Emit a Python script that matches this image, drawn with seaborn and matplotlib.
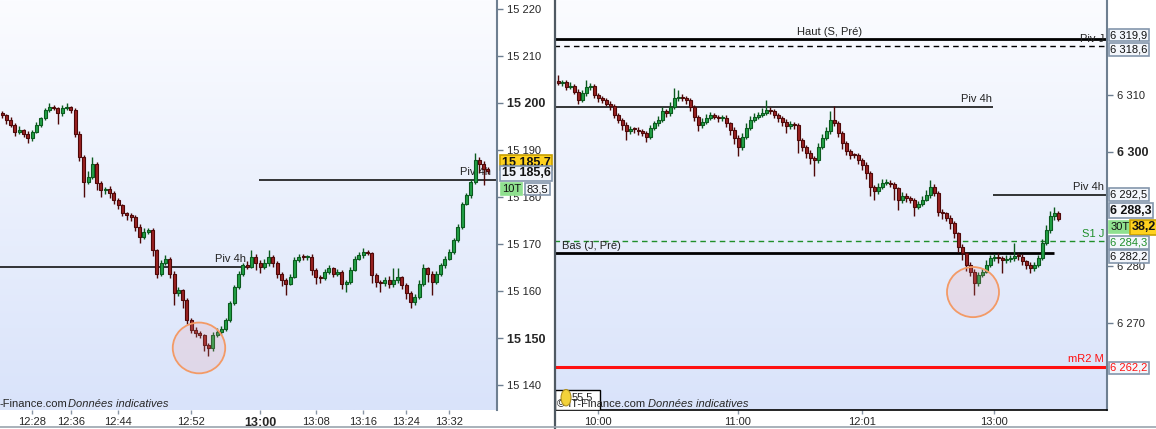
import numpy as np
import seaborn as sns
import matplotlib.pyplot as plt
import matplotlib.transforms as mtransforms
from matplotlib.patches import Ellipse, Rectangle
from matplotlib.lines import Line2D
from matplotlib.colors import LinearSegmentedColormap

sns.set_style("white")
plt.rcParams['font.family'] = ['Liberation Sans', 'DejaVu Sans']

# ---- left panel : 10 ticks bars ----
left_open0 = 15197.8
left_close = [15197.4, 15196.4, 15195.3, 15193.9, 15194.2, 15193.5, 15192.5, 15193.9, 15195.3, 15196.7,
              15198.5, 15199.2, 15198.9, 15197.8, 15198.9, 15199.1, 15198.5, 15193.5, 15188.6, 15183.2,
              15184.3, 15187.1, 15182.9, 15181.5, 15181.8, 15180.8, 15179.3, 15178.3, 15176.5, 15176.2,
              15175.8, 15173.7, 15171.5, 15172.6, 15173.0, 15168.7, 15163.7, 15165.9, 15166.9, 15163.7,
              15159.5, 15160.2, 15158.1, 15153.8, 15151.7, 15151.0, 15150.6, 15148.5, 15147.8, 15150.6,
              15151.3, 15152.0, 15153.8, 15157.4, 15160.9, 15163.7, 15165.5, 15165.2, 15167.3, 15165.9,
              15165.2, 15165.9, 15167.3, 15165.9, 15163.7, 15162.3, 15161.6, 15163.0, 15166.6, 15167.3,
              15167.2, 15167.3, 15164.5, 15163.0, 15162.7, 15164.1, 15164.8, 15163.7, 15164.1, 15161.6,
              15161.9, 15164.5, 15166.9, 15167.6, 15168.3, 15168.0, 15163.4, 15162.0, 15161.8, 15162.3,
              15161.6, 15162.3, 15163.0, 15161.3, 15159.5, 15157.7, 15158.8, 15161.6, 15164.8, 15163.7,
              15162.0, 15163.7, 15165.5, 15166.9, 15168.3, 15170.8, 15173.7, 15178.6, 15180.4, 15183.2,
              15187.9, 15187.1, 15186.0, 15185.6]
left_up = [0.5, 0.3, 0.6, 0.4, 0.8, 0.3, 0.5, 0.4, 0.6, 0.3,
           0.5, 0.7, 0.4, 0.3, 0.6, 0.9, 0.3, 0.4, 0.5, 0.3,
           1.2, 1.5, 0.4, 0.5, 0.3, 0.6, 0.4, 0.5, 0.3, 0.4,
           0.5, 0.3, 0.6, 0.8, 0.5, 0.4, 0.3, 0.6, 0.7, 0.4,
           0.5, 0.6, 0.3, 0.4, 0.5, 0.6, 0.4, 0.3, 0.5, 0.7,
           0.8, 0.6, 0.4, 0.5, 0.3, 0.6, 0.5, 0.9, 1.4, 0.6,
           0.7, 0.9, 1.4, 0.4, 0.5, 0.3, 0.4, 0.6, 0.7, 0.5,
           0.6, 0.4, 0.5, 0.3, 0.4, 0.6, 0.7, 0.4, 0.5, 0.3,
           0.4, 0.6, 0.5, 0.7, 0.8, 0.4, 0.3, 0.5, 0.4, 0.6,
           0.8, 2.5, 2.0, 0.3, 0.4, 0.6, 0.5, 0.7, 0.9, 0.4,
           0.5, 0.6, 0.4, 0.5, 0.6, 0.4, 0.5, 0.3, 0.4, 0.6,
           1.4, 0.6, 0.5, 0.4]
left_dn = [0.6, 0.8, 0.5, 0.9, 0.4, 0.7, 1.1, 0.5, 0.3, 0.4,
           0.3, 0.5, 0.4, 2.2, 0.5, 0.4, 0.6, 0.8, 0.9, 3.1,
           0.5, 0.4, 1.4, 1.6, 0.8, 1.0, 0.7, 0.9, 0.6, 1.1,
           0.8, 0.9, 1.2, 0.5, 0.4, 1.3, 1.0, 0.5, 0.4, 0.9,
           2.5, 0.5, 1.8, 0.9, 0.7, 0.8, 0.6, 1.2, 1.6, 0.5,
           0.4, 0.6, 0.5, 0.4, 0.3, 0.4, 0.5, 0.6, 0.4, 1.5,
           1.4, 0.6, 0.5, 0.8, 1.0, 1.2, 2.5, 0.4, 0.3, 0.4,
           0.5, 0.6, 1.1, 1.5, 0.9, 0.4, 0.5, 0.8, 0.6, 1.2,
           1.8, 0.4, 0.3, 0.4, 0.5, 0.3, 1.6, 1.2, 2.0, 0.8,
           0.9, 0.7, 0.6, 0.9, 1.1, 1.4, 0.6, 0.4, 0.5, 1.8,
           2.9, 0.6, 0.4, 0.5, 0.4, 0.5, 0.4, 0.5, 0.4, 0.6,
           0.5, 2.0, 3.5, 0.8]
left_tick_bars = [7, 16, 27, 44, 60, 73, 84, 94, 104]
left_tick_labels = ["12:28", "12:36", "12:44", "12:52", "13:00", "13:08", "13:16", "13:24", "13:32"]
left_price_ticks = [15140, 15150, 15160, 15170, 15180, 15190, 15200, 15210, 15220]
left_piv_4h = [15165.1, 15183.6]

# ---- right panel : 30 ticks bars ----
right_open0 = 6312.5
right_close = [6312.1, 6312.2, 6311.4, 6311.6, 6310.6, 6309.1, 6310.3, 6311.4, 6311.5, 6310.0,
               6309.4, 6309.1, 6308.5, 6308.1, 6306.5, 6305.6, 6304.7, 6303.7, 6304.0, 6303.9,
               6303.7, 6303.3, 6302.7, 6304.2, 6305.0, 6305.6, 6307.1, 6306.8, 6307.9, 6309.4,
               6309.7, 6309.4, 6309.1, 6307.9, 6306.2, 6304.7, 6305.3, 6305.9, 6306.5, 6306.2,
               6305.9, 6306.0, 6305.0, 6303.9, 6302.4, 6300.9, 6302.7, 6304.2, 6305.6, 6306.2,
               6306.5, 6306.8, 6307.4, 6307.1, 6306.5, 6305.9, 6305.3, 6304.6, 6304.9, 6304.7,
               6302.1, 6300.9, 6299.8, 6298.9, 6298.6, 6300.9, 6302.4, 6303.6, 6305.6, 6305.0,
               6303.3, 6301.5, 6300.1, 6299.5, 6299.4, 6298.6, 6297.7, 6296.3, 6293.9, 6293.2,
               6293.9, 6294.5, 6294.6, 6294.4, 6293.6, 6291.6, 6292.3, 6291.9, 6291.6, 6290.4,
               6290.9, 6291.6, 6292.5, 6293.9, 6292.8, 6289.5, 6289.2, 6288.4, 6287.5, 6285.7,
               6283.4, 6282.2, 6280.2, 6279.0, 6277.0, 6278.4, 6279.0, 6280.2, 6281.3, 6281.6,
               6281.3, 6281.1, 6281.2, 6281.3, 6281.7, 6281.6, 6280.8, 6280.2, 6279.6, 6280.2,
               6281.3, 6284.0, 6286.3, 6288.7, 6289.3, 6288.2]
right_up = [1.0, 0.5, 0.4, 0.6, 0.3, 0.4, 0.5, 1.2, 0.6, 0.4,
            0.3, 0.4, 0.3, 0.5, 0.4, 0.3, 0.4, 0.5, 0.6, 0.4,
            0.5, 0.3, 0.4, 0.6, 0.5, 0.7, 0.8, 0.4, 0.9, 1.8,
            1.2, 0.5, 0.4, 0.3, 0.4, 0.3, 0.6, 0.7, 0.5, 0.4,
            0.3, 0.5, 0.4, 0.3, 0.4, 0.5, 0.6, 0.8, 0.7, 0.6,
            0.5, 0.9, 1.7, 0.5, 0.4, 0.3, 0.4, 0.5, 0.6, 0.4,
            0.3, 0.4, 0.3, 0.5, 0.4, 0.6, 0.8, 0.7, 1.5, 2.4,
            0.4, 0.3, 0.5, 0.4, 0.3, 0.4, 0.3, 0.5, 0.4, 0.3,
            0.6, 0.8, 0.7, 0.5, 0.4, 0.3, 0.6, 0.5, 0.4, 0.3,
            0.5, 0.6, 0.8, 1.2, 0.4, 0.3, 0.4, 0.3, 0.5, 0.4,
            0.3, 0.4, 0.3, 0.5, 0.4, 0.6, 0.7, 0.8, 0.6, 0.5,
            0.6, 0.5, 0.7, 0.6, 2.3, 0.5, 0.4, 0.3, 0.4, 0.5,
            0.6, 0.7, 0.8, 0.9, 1.1, 0.3]
right_dn = [0.4, 0.5, 0.6, 0.4, 0.5, 0.6, 0.3, 0.4, 0.5, 0.6,
            0.7, 0.5, 0.4, 0.8, 0.5, 0.6, 0.9, 1.6, 0.5, 0.6,
            0.7, 0.5, 0.9, 0.4, 0.3, 0.5, 0.4, 0.6, 0.5, 0.3,
            0.4, 0.5, 0.6, 0.7, 0.8, 1.0, 0.5, 0.4, 0.3, 0.5,
            0.6, 0.5, 0.7, 0.9, 1.0, 1.7, 0.5, 0.4, 0.3, 0.4,
            0.5, 0.3, 0.4, 0.5, 0.6, 0.7, 0.8, 1.3, 0.5, 0.6,
            2.3, 0.8, 0.9, 1.0, 2.9, 0.5, 0.4, 0.3, 0.4, 0.5,
            0.7, 0.9, 0.6, 0.8, 0.5, 0.7, 0.9, 1.0, 1.7, 1.6,
            0.5, 0.4, 0.3, 0.5, 2.1, 1.8, 0.5, 0.7, 0.6, 1.7,
            0.5, 0.4, 0.3, 0.5, 0.6, 0.7, 0.9, 0.6, 1.0, 0.8,
            0.9, 1.2, 1.1, 0.8, 2.1, 0.5, 0.4, 0.3, 0.4, 0.5,
            0.8, 2.4, 0.6, 0.5, 0.4, 0.5, 0.6, 0.7, 0.9, 0.5,
            0.4, 0.3, 0.4, 0.5, 0.6, 0.4]
right_tick_bars = [10, 45, 76, 109]
right_tick_labels = ["10:00", "11:00", "12:01", "13:00"]
right_price_ticks = [6270, 6280, 6300, 6310]
haut_s = 6319.9
piv_j = 6318.6
right_piv_4h = [6307.9, 6292.5]
s1_j = 6284.3
bas_j = 6282.2
mr2_m = 6262.2

RED, RED_E = "#9a2222", "#4e0808"
GRN, GRN_E = "#22a046", "#0b5a1e"
FS = 8


def candles(ax, open0, close, up, dn, width):
    c = np.array(close)
    o = np.concatenate([[open0], c[:-1]])
    hi = np.maximum(o, c) + np.array(up)
    lo = np.minimum(o, c) - np.array(dn)
    x = np.arange(len(c))
    rising = c >= o
    cols = np.where(rising, GRN, RED)
    edges = np.where(rising, GRN_E, RED_E)
    ax.vlines(x, lo, hi, colors=edges, lw=1.0, zorder=3)
    body = np.where(np.abs(c - o) < 0.15, 0.15, c - o)
    ax.bar(x, body, bottom=o, width=width, color=cols, edgecolor=edges, lw=0.8, zorder=4)


def gradient(ax):
    g = np.linspace(0, 1, 256).reshape(-1, 1)
    cm = LinearSegmentedColormap.from_list("bg", ["#d9e3fa", "#fbfcff"])
    ax.imshow(g, cmap=cm, extent=[0, 1, 0, 1], transform=ax.transAxes,
              aspect="auto", origin="lower", zorder=0)


def box(ax, x, y, s, fc="#f3f6fb", ec="#8496ac", color="#111111", bold=False, size=FS):
    trans = mtransforms.blended_transform_factory(ax.transAxes, ax.transData)
    ax.text(x, y, s, transform=trans, ha="left", va="center", fontsize=size, color=color,
            fontweight="bold" if bold else "normal", clip_on=False, zorder=10,
            bbox=dict(boxstyle="square,pad=0.12", fc=fc, ec=ec, lw=1.2))


fig = plt.figure(figsize=(11.56, 4.29), dpi=100)
fig.patch.set_facecolor("white")
ax1 = fig.add_axes([0, 19 / 429, 497 / 1156, 410 / 429])
ax2 = fig.add_axes([555 / 1156, 19 / 429, 552 / 1156, 410 / 429])

# ---------- left ----------
gradient(ax1)
candles(ax1, left_open0, left_close, left_up, left_dn, 0.7)
ax1.set_xlim(-0.47, 115.1)
ax1.set_ylim(15134.7, 15221.9)
ax1.hlines(left_piv_4h[0], -1, 56.7, color="black", lw=1.1, zorder=2)
ax1.hlines(left_piv_4h[1], 59.8, 120, color="black", lw=1.1, zorder=2)
ax1.text(56.7, left_piv_4h[0] + 0.6, "Piv 4h", ha="right", va="bottom", fontsize=FS, color="#222", zorder=2)
ax1.text(113.8, left_piv_4h[1] + 0.6, "Piv 4h", ha="right", va="bottom", fontsize=FS, color="#222", zorder=2)
ax1.add_patch(Ellipse((45.8, 15147.9), 12.2, 10.8, fc=(0.95, 0.6, 0.6, 0.18),
                      ec="#f39a66", lw=1.3, zorder=6))
ax1.yaxis.tick_right()
ax1.set_yticks(left_price_ticks)
ax1.set_yticklabels([f"{v // 1000} {v % 1000:03d}" for v in left_price_ticks])
ax1.set_xticks(left_tick_bars)
ax1.set_xticklabels(left_tick_labels)
ax1.tick_params(axis="y", right=True, length=4, width=1, color="#6e7f91", labelsize=FS, pad=3)
ax1.tick_params(axis="x", bottom=True, length=3, width=1, color="#8a97a6", labelsize=FS, pad=2)
for lab in ax1.get_yticklabels():
    if lab.get_text() in ("15 200", "15 150"):
        lab.set_fontweight("bold")
        lab.set_fontsize(9)
for lab in ax1.get_xticklabels():
    if lab.get_text() == "13:00":
        lab.set_fontweight("bold")
        lab.set_fontsize(9)
for side in ("top", "left", "bottom"):
    ax1.spines[side].set_visible(False)
ax1.spines["right"].set_color("#6e7f91")
ax1.spines["right"].set_linewidth(1.5)
ax1.text(0.0, 0.015, "-Finance.com", transform=ax1.transAxes, fontsize=FS, va="center", zorder=7)
ax1.text(0.137, 0.015, "Données indicatives", transform=ax1.transAxes, fontsize=FS,
         style="italic", va="center", zorder=7)
box(ax1, 1.01, 15187.3, "15 185,7", fc="#ffd21f", ec="#c8a000", bold=True, size=9)
box(ax1, 1.01, 15185.0, "15 185,6", fc="#f0f3fa", ec="#8496ac", bold=True, size=9)
box(ax1, 1.01, 15181.7, "10T", fc="#8fe08f", ec="#8fe08f")
box(ax1, 1.06, 15181.7, "83,5")

# ---------- right ----------
gradient(ax2)
candles(ax2, right_open0, right_close, right_up, right_dn, 0.75)
ax2.set_xlim(-0.75, 137.25)
ax2.set_ylim(6254.7, 6326.67)
ax2.hlines(haut_s, -1, 140, color="black", lw=2.0, zorder=2)
ax2.hlines(piv_j, -1, 140, color="black", lw=1.0, ls=(0, (4, 3)), zorder=2)
ax2.hlines(right_piv_4h[0], -1, 108.75, color="black", lw=1.1, zorder=2)
ax2.hlines(right_piv_4h[1], 108.75, 140, color="black", lw=1.1, zorder=2)
ax2.hlines(s1_j, -1, 140, color="#1f8f2a", lw=1.0, ls=(0, (4, 3)), zorder=2)
ax2.hlines(bas_j, -1, 124, color="black", lw=2.0, zorder=2)
ax2.hlines(mr2_m, -1, 140, color="#ff1010", lw=2.2, zorder=2)
ax2.text(68, haut_s + 0.3, "Haut (S, Pré)", ha="center", va="bottom", fontsize=FS, color="#222")
ax2.text(136.5, haut_s - 0.1, "Piv J", ha="right", va="center", fontsize=FS, color="#222")
ax2.text(108.5, right_piv_4h[0] + 0.5, "Piv 4h", ha="right", va="bottom", fontsize=FS, color="#222")
ax2.text(136.5, right_piv_4h[1] + 0.5, "Piv 4h", ha="right", va="bottom", fontsize=FS, color="#222")
ax2.text(136.5, s1_j + 0.5, "S1 J", ha="right", va="bottom", fontsize=FS, color="#1f8f2a")
ax2.text(1.0, bas_j + 0.4, "Bas (J, Pré)", ha="left", va="bottom", fontsize=FS, color="#222")
ax2.text(136.5, mr2_m + 0.5, "mR2 M", ha="right", va="bottom", fontsize=FS, color="#ff1010")
ax2.add_patch(Ellipse((103.75, 6275.4), 13.0, 8.8, fc=(0.95, 0.6, 0.6, 0.18),
                      ec="#f39a66", lw=1.3, zorder=6))
ax2.yaxis.tick_right()
ax2.set_yticks(right_price_ticks)
ax2.set_yticklabels([f"{v // 1000} {v % 1000:03d}" for v in right_price_ticks])
ax2.set_xticks(right_tick_bars)
ax2.set_xticklabels(right_tick_labels)
ax2.tick_params(axis="y", right=True, length=4, width=1, color="#6e7f91", labelsize=FS, pad=3)
ax2.tick_params(axis="x", bottom=True, length=3, width=1, color="#8a97a6", labelsize=FS, pad=2)
for lab in ax2.get_yticklabels():
    if lab.get_text() == "6 300":
        lab.set_fontweight("bold")
        lab.set_fontsize(9)
ax2.spines["top"].set_visible(False)
ax2.spines["left"].set_visible(False)
ax2.spines["bottom"].set_color("black")
ax2.spines["bottom"].set_linewidth(1.2)
ax2.spines["right"].set_color("#6e7f91")
ax2.spines["right"].set_linewidth(1.5)
ax2.text(0.003, 0.015, "© IT-Finance.com", transform=ax2.transAxes, fontsize=FS, va="center", zorder=7)
ax2.text(0.168, 0.015, "Données indicatives", transform=ax2.transAxes, fontsize=FS,
         style="italic", va="center", zorder=7)
ax2.add_patch(Rectangle((0.0, 0.0), 0.082, 0.05, transform=ax2.transAxes, fc="white",
                        ec="black", lw=1.0, zorder=6))
ax2.text(0.03, 0.03, "55,5", transform=ax2.transAxes, fontsize=FS, va="center", zorder=8)
ax2.add_patch(Ellipse((0.02, 0.03), 0.018, 0.04, transform=ax2.transAxes, fc="#f3d23a",
                      ec="#b09020", lw=0.8, zorder=9))

box(ax2, 1.006, 6320.5, "6 319,9")
box(ax2, 1.006, 6318.0, "6 318,6")
box(ax2, 1.006, 6292.5, "6 292,5")
box(ax2, 1.006, 6289.65, "6 288,3", fc="#f6f8fc", ec="#8496ac", bold=True, size=9)
box(ax2, 1.006, 6286.8, "30T", fc="#8fe08f", ec="#8fe08f")
box(ax2, 1.045, 6286.8, "38,2", fc="#ffd21f", ec="#c8a000", bold=True, size=9)
box(ax2, 1.006, 6284.1, "6 284,3", color="#1f8f2a")
box(ax2, 1.006, 6281.6, "6 282,2")
box(ax2, 1.006, 6262.1, "6 262,2", color="#ff1010")

# panel separators
fig.add_artist(Line2D([555 / 1156, 555 / 1156], [0, 1], color="#4f5962", lw=1.6))
fig.add_artist(Line2D([0, 1], [2 / 429, 2 / 429], color="#9aa4ae", lw=1.2))

fig.savefig("out.png", dpi=100)
